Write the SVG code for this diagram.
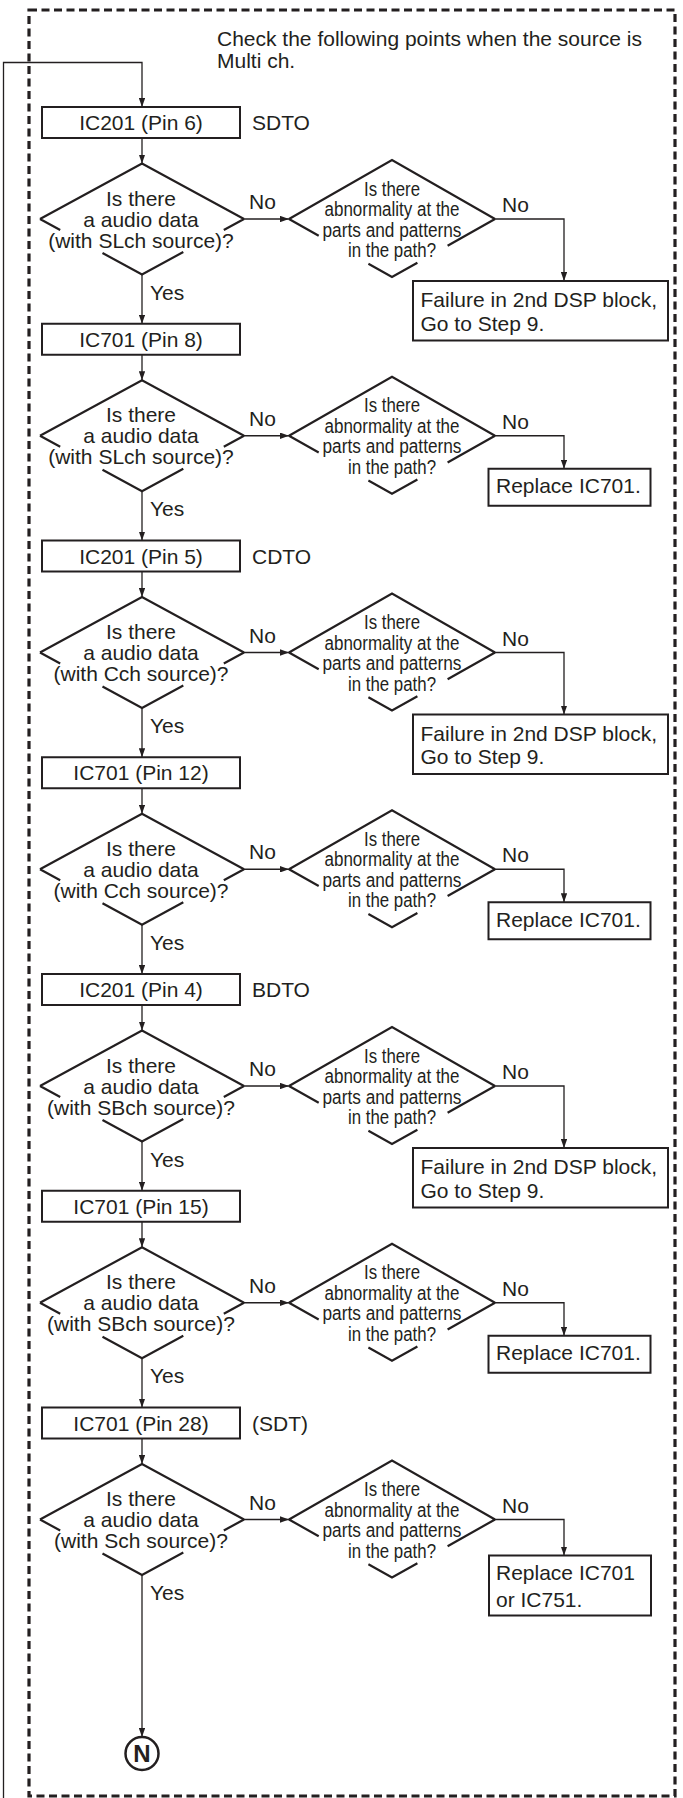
<svg xmlns="http://www.w3.org/2000/svg" width="683" height="1798" viewBox="0 0 683 1798">
<style>
.t{font-family:"Liberation Sans",Arial,sans-serif;font-size:21px;fill:#231f20}
.s{font-family:"Liberation Sans",Arial,sans-serif;font-size:20px;fill:#231f20}
.m{text-anchor:middle}
.box{fill:#fff;stroke:#231f20;stroke-width:2}
.dia{fill:none;stroke:#231f20;stroke-width:2.2;stroke-linejoin:miter}
.ar{fill:none;stroke:#231f20;stroke-width:1.3;marker-end:url(#ah)}
.border{fill:none;stroke:#231f20;stroke-width:3.2;stroke-dasharray:8 4.5}
</style>
<defs>
<marker id="ah" viewBox="0 0 9 6.4" refX="9" refY="3.2" markerWidth="9" markerHeight="6.4" markerUnits="userSpaceOnUse" orient="auto"><path d="M0,0 L9,3.2 L0,6.4 z" fill="#231f20"/></marker>
<path id="bigd" d="M40,112 L142,56.5 L244,112 M40,112 L60.2,123 M102.5,146 L142,167.5 L183.3,145 M223.8,123 L244,112"/>
<path id="smd" d="M289,112 L392,53 L495,112 M289,112 L318.7,128.7 M368.4,156.7 L392,170 L417.4,155.7 M447.6,138.7 L495,112"/>
</defs>
<rect width="683" height="1798" fill="#fff"/>
<rect id="frame" class="border" x="29" y="10" width="646" height="1786"/>
<g id="header"><text class="t" x="217" y="46">Check the following points when the source is</text><text class="t" x="217" y="67.5">Multi ch.</text></g>

<g id="connectors">
<path class="ar" d="M3.5,1798 V62.5 H142 V107"/>
<g transform="translate(0,107)"><path class="ar" d="M142,31 V56.5"/><path class="ar" d="M244,112 H289"/><path class="ar" d="M495,112 H564 V174"/><path class="ar" d="M142,167.5 V216.75"/></g>
<g transform="translate(0,323.75)"><path class="ar" d="M142,31 V56.5"/><path class="ar" d="M244,112 H289"/><path class="ar" d="M495,112 H564 V145"/><path class="ar" d="M142,167.5 V216.75"/></g>
<g transform="translate(0,540.5)"><path class="ar" d="M142,31 V56.5"/><path class="ar" d="M244,112 H289"/><path class="ar" d="M495,112 H564 V174"/><path class="ar" d="M142,167.5 V216.75"/></g>
<g transform="translate(0,757.25)"><path class="ar" d="M142,31 V56.5"/><path class="ar" d="M244,112 H289"/><path class="ar" d="M495,112 H564 V145"/><path class="ar" d="M142,167.5 V216.75"/></g>
<g transform="translate(0,974)"><path class="ar" d="M142,31 V56.5"/><path class="ar" d="M244,112 H289"/><path class="ar" d="M495,112 H564 V174"/><path class="ar" d="M142,167.5 V216.75"/></g>
<g transform="translate(0,1190.75)"><path class="ar" d="M142,31 V56.5"/><path class="ar" d="M244,112 H289"/><path class="ar" d="M495,112 H564 V145"/><path class="ar" d="M142,167.5 V216.75"/></g>
<g transform="translate(0,1407.5)"><path class="ar" d="M142,31 V56.5"/><path class="ar" d="M244,112 H289"/><path class="ar" d="M495,112 H564 V148"/><path class="ar" d="M142,167.5 V329.5"/></g>
</g>

<!-- Section 1 -->
<g transform="translate(0,107)">
<g id="box1"><rect class="box" x="42" y="0" width="198" height="31"/><text class="t m" x="141" y="23">IC201 (Pin 6)</text></g>
<text class="t" x="252" y="23">SDTO</text>
<g id="q1"><use href="#bigd" class="dia"/><text class="t m" x="141" y="98.5">Is there</text><text class="t m" x="141" y="119.5">a audio data</text><text class="t m" x="141" y="140.5">(with SLch source)?</text></g>
<g id="p1"><use href="#smd" class="dia"/><text class="s m" x="392" y="88.5" textLength="56" lengthAdjust="spacingAndGlyphs">Is there</text><text class="s m" x="392" y="109" textLength="135" lengthAdjust="spacingAndGlyphs">abnormality at the</text><text class="s m" x="392" y="129.5" textLength="139" lengthAdjust="spacingAndGlyphs">parts and patterns</text><text class="s m" x="392" y="150" textLength="88" lengthAdjust="spacingAndGlyphs">in the path?</text></g>
<g id="f1"><rect class="box" x="413" y="174" width="255" height="59.5"/><text class="t" x="420.5" y="200">Failure in 2nd DSP block,</text><text class="t" x="420.5" y="223.5">Go to Step 9.</text></g>
<text class="t" x="249" y="102">No</text><text class="t" x="502" y="105">No</text><text class="t" x="150" y="192.5">Yes</text>
</g>

<!-- Section 2 -->
<g transform="translate(0,323.75)">
<g id="box2"><rect class="box" x="42" y="0" width="198" height="31"/><text class="t m" x="141" y="23">IC701 (Pin 8)</text></g>
<g id="q2"><use href="#bigd" class="dia"/><text class="t m" x="141" y="98.5">Is there</text><text class="t m" x="141" y="119.5">a audio data</text><text class="t m" x="141" y="140.5">(with SLch source)?</text></g>
<g id="p2"><use href="#smd" class="dia"/><text class="s m" x="392" y="88.5" textLength="56" lengthAdjust="spacingAndGlyphs">Is there</text><text class="s m" x="392" y="109" textLength="135" lengthAdjust="spacingAndGlyphs">abnormality at the</text><text class="s m" x="392" y="129.5" textLength="139" lengthAdjust="spacingAndGlyphs">parts and patterns</text><text class="s m" x="392" y="150" textLength="88" lengthAdjust="spacingAndGlyphs">in the path?</text></g>
<g id="r2"><rect class="box" x="488.5" y="145" width="162" height="37"/><text class="t" x="496" y="169.5">Replace IC701.</text></g>
<text class="t" x="249" y="102">No</text><text class="t" x="502" y="105">No</text><text class="t" x="150" y="192.5">Yes</text>
</g>

<!-- Section 3 -->
<g transform="translate(0,540.5)">
<g id="box3"><rect class="box" x="42" y="0" width="198" height="31"/><text class="t m" x="141" y="23">IC201 (Pin 5)</text></g>
<text class="t" x="252" y="23">CDTO</text>
<g id="q3"><use href="#bigd" class="dia"/><text class="t m" x="141" y="98.5">Is there</text><text class="t m" x="141" y="119.5">a audio data</text><text class="t m" x="141" y="140.5">(with Cch source)?</text></g>
<g id="p3"><use href="#smd" class="dia"/><text class="s m" x="392" y="88.5" textLength="56" lengthAdjust="spacingAndGlyphs">Is there</text><text class="s m" x="392" y="109" textLength="135" lengthAdjust="spacingAndGlyphs">abnormality at the</text><text class="s m" x="392" y="129.5" textLength="139" lengthAdjust="spacingAndGlyphs">parts and patterns</text><text class="s m" x="392" y="150" textLength="88" lengthAdjust="spacingAndGlyphs">in the path?</text></g>
<g id="f3"><rect class="box" x="413" y="174" width="255" height="59.5"/><text class="t" x="420.5" y="200">Failure in 2nd DSP block,</text><text class="t" x="420.5" y="223.5">Go to Step 9.</text></g>
<text class="t" x="249" y="102">No</text><text class="t" x="502" y="105">No</text><text class="t" x="150" y="192.5">Yes</text>
</g>

<!-- Section 4 -->
<g transform="translate(0,757.25)">
<g id="box4"><rect class="box" x="42" y="0" width="198" height="31"/><text class="t m" x="141" y="23">IC701 (Pin 12)</text></g>
<g id="q4"><use href="#bigd" class="dia"/><text class="t m" x="141" y="98.5">Is there</text><text class="t m" x="141" y="119.5">a audio data</text><text class="t m" x="141" y="140.5">(with Cch source)?</text></g>
<g id="p4"><use href="#smd" class="dia"/><text class="s m" x="392" y="88.5" textLength="56" lengthAdjust="spacingAndGlyphs">Is there</text><text class="s m" x="392" y="109" textLength="135" lengthAdjust="spacingAndGlyphs">abnormality at the</text><text class="s m" x="392" y="129.5" textLength="139" lengthAdjust="spacingAndGlyphs">parts and patterns</text><text class="s m" x="392" y="150" textLength="88" lengthAdjust="spacingAndGlyphs">in the path?</text></g>
<g id="r4"><rect class="box" x="488.5" y="145" width="162" height="37"/><text class="t" x="496" y="169.5">Replace IC701.</text></g>
<text class="t" x="249" y="102">No</text><text class="t" x="502" y="105">No</text><text class="t" x="150" y="192.5">Yes</text>
</g>

<!-- Section 5 -->
<g transform="translate(0,974)">
<g id="box5"><rect class="box" x="42" y="0" width="198" height="31"/><text class="t m" x="141" y="23">IC201 (Pin 4)</text></g>
<text class="t" x="252" y="23">BDTO</text>
<g id="q5"><use href="#bigd" class="dia"/><text class="t m" x="141" y="98.5">Is there</text><text class="t m" x="141" y="119.5">a audio data</text><text class="t m" x="141" y="140.5">(with SBch source)?</text></g>
<g id="p5"><use href="#smd" class="dia"/><text class="s m" x="392" y="88.5" textLength="56" lengthAdjust="spacingAndGlyphs">Is there</text><text class="s m" x="392" y="109" textLength="135" lengthAdjust="spacingAndGlyphs">abnormality at the</text><text class="s m" x="392" y="129.5" textLength="139" lengthAdjust="spacingAndGlyphs">parts and patterns</text><text class="s m" x="392" y="150" textLength="88" lengthAdjust="spacingAndGlyphs">in the path?</text></g>
<g id="f5"><rect class="box" x="413" y="174" width="255" height="59.5"/><text class="t" x="420.5" y="200">Failure in 2nd DSP block,</text><text class="t" x="420.5" y="223.5">Go to Step 9.</text></g>
<text class="t" x="249" y="102">No</text><text class="t" x="502" y="105">No</text><text class="t" x="150" y="192.5">Yes</text>
</g>

<!-- Section 6 -->
<g transform="translate(0,1190.75)">
<g id="box6"><rect class="box" x="42" y="0" width="198" height="31"/><text class="t m" x="141" y="23">IC701 (Pin 15)</text></g>
<g id="q6"><use href="#bigd" class="dia"/><text class="t m" x="141" y="98.5">Is there</text><text class="t m" x="141" y="119.5">a audio data</text><text class="t m" x="141" y="140.5">(with SBch source)?</text></g>
<g id="p6"><use href="#smd" class="dia"/><text class="s m" x="392" y="88.5" textLength="56" lengthAdjust="spacingAndGlyphs">Is there</text><text class="s m" x="392" y="109" textLength="135" lengthAdjust="spacingAndGlyphs">abnormality at the</text><text class="s m" x="392" y="129.5" textLength="139" lengthAdjust="spacingAndGlyphs">parts and patterns</text><text class="s m" x="392" y="150" textLength="88" lengthAdjust="spacingAndGlyphs">in the path?</text></g>
<g id="r6"><rect class="box" x="488.5" y="145" width="162" height="37"/><text class="t" x="496" y="169.5">Replace IC701.</text></g>
<text class="t" x="249" y="102">No</text><text class="t" x="502" y="105">No</text><text class="t" x="150" y="192.5">Yes</text>
</g>

<!-- Section 7 -->
<g transform="translate(0,1407.5)">
<g id="box7"><rect class="box" x="42" y="0" width="198" height="31"/><text class="t m" x="141" y="23">IC701 (Pin 28)</text></g>
<text class="t" x="252" y="23">(SDT)</text>
<g id="q7"><use href="#bigd" class="dia"/><text class="t m" x="141" y="98.5">Is there</text><text class="t m" x="141" y="119.5">a audio data</text><text class="t m" x="141" y="140.5">(with Sch source)?</text></g>
<g id="p7"><use href="#smd" class="dia"/><text class="s m" x="392" y="88.5" textLength="56" lengthAdjust="spacingAndGlyphs">Is there</text><text class="s m" x="392" y="109" textLength="135" lengthAdjust="spacingAndGlyphs">abnormality at the</text><text class="s m" x="392" y="129.5" textLength="139" lengthAdjust="spacingAndGlyphs">parts and patterns</text><text class="s m" x="392" y="150" textLength="88" lengthAdjust="spacingAndGlyphs">in the path?</text></g>
<g id="r7"><rect class="box" x="489" y="148" width="162" height="60"/><text class="t" x="496" y="172.5">Replace IC701</text><text class="t" x="496" y="199">or IC751.</text></g>
<text class="t" x="249" y="102">No</text><text class="t" x="502" y="105">No</text><text class="t" x="150" y="192.5">Yes</text>
</g>

<g id="N"><circle cx="142" cy="1753.5" r="16.5" fill="#fff" stroke="#231f20" stroke-width="2.5"/><text x="142" y="1762" text-anchor="middle" style="font-family:'Liberation Sans',Arial,sans-serif;font-size:24px;font-weight:bold;fill:#231f20">N</text></g>
</svg>
